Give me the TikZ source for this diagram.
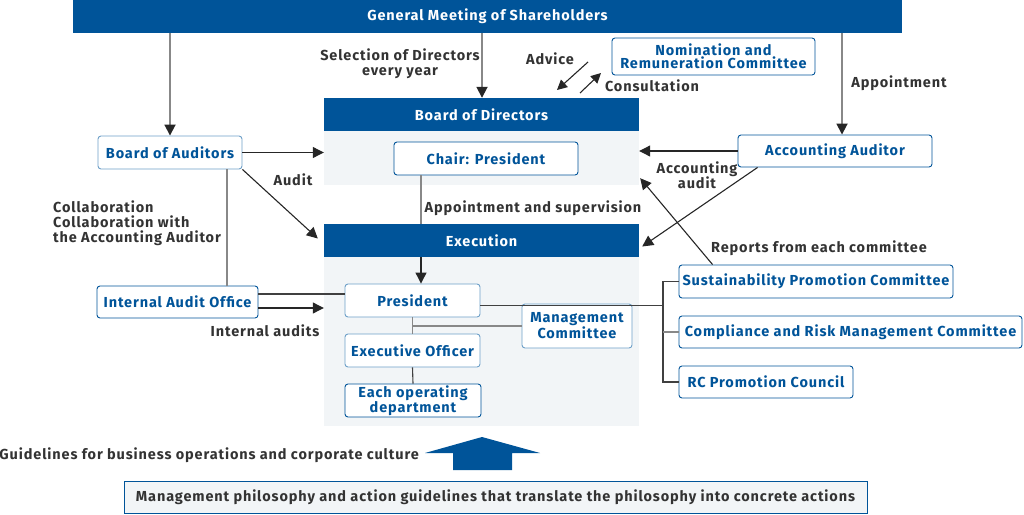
\documentclass[tikz,border=0pt]{standalone}
\usepackage{fontspec}
\setmainfont{Fira Sans}[LetterSpace=6]
\usetikzlibrary{arrows.meta,calc}
\definecolor{dblue}{RGB}{0,84,153}
\definecolor{bgc}{RGB}{242,245,247}
\definecolor{gline}{RGB}{136,136,136}
\definecolor{txt}{RGB}{51,51,51}
\definecolor{lborder}{RGB}{110,160,200}
\tikzset{
  every node/.style={font=\fontsize{14.5}{14.5}\selectfont\bfseries, inner sep=0pt},
  header/.style={fill=dblue, text=white, minimum height=33pt, anchor=center},
  bgarea/.style={fill=bgc, anchor=center},
  box/.style={draw=dblue, fill=white, text=dblue, rounded corners=3pt, line width=0.9pt, align=center, anchor=center, font=\fontsize{14.5}{12}\selectfont\bfseries},
  lbox/.style={box, draw=lborder},
  lbl/.style={text=txt, align=center, font=\fontsize{14.5}{15}\selectfont\bfseries},
  garrow/.style={draw=gline, line width=1.8pt, -{Triangle[width=11pt,length=11pt,fill=black!85,color=black!85]}},
  barrow/.style={draw=black!85, line width=1.1pt, -{Triangle[width=11pt,length=11pt]}},
  gline/.style={draw=gline, line width=1.8pt},
  bline/.style={draw=black!75, line width=1.1pt},
}
\begin{document}
\begin{tikzpicture}[x=1pt,y=-1pt]
\useasboundingbox (0,0) rectangle (1024,514);
% background areas
\node[bgarea, minimum width=315pt, minimum height=54pt] (bodbg) at (481.5,158) {};
\node[bgarea, minimum width=315pt, minimum height=169pt] (execbg) at (481.5,341.5) {};
% headers
\node[header, minimum width=829pt] (gm) at (487.5,16.5) {General Meeting of Shareholders};
\node[header, minimum width=315pt] (bod) at (481.5,114.5) {Board of Directors};
\node[header, minimum width=315pt] (exec) at (481.5,240.5) {Execution};
% boxes
\node[box, minimum width=203pt, minimum height=37pt] (nom) at (713.5,56.5) {Nomination and\\Remuneration Committee};
\node[box, minimum width=184pt, minimum height=33pt] (chair) at (486,158.5) {Chair: President};
\node[lbox, minimum width=144pt, minimum height=33pt] (boa) at (170,152.5) {Board of Auditors};
\node[box, minimum width=194pt, minimum height=32pt] (aa) at (835,151) {Accounting Auditor};
\node[box, minimum width=161pt, minimum height=32pt] (iao) at (177.5,302) {Internal Audit Office};
\node[lbox, minimum width=135pt, minimum height=33pt] (pres) at (412.5,300.5) {President};
\node[lbox, minimum width=110pt, minimum height=44pt, font=\fontsize{14.5}{14}\selectfont\bfseries] (mgmt) at (577,326) {Management\\Committee};
\node[lbox, minimum width=135pt, minimum height=33pt] (eo) at (412.5,350.5) {Executive Officer};
\node[box, minimum width=136pt, minimum height=33pt] (dept) at (413,400.5) {Each operating\\department};
\node[box, minimum width=274pt, minimum height=33pt] (sust) at (816,281.5) {Sustainability Promotion Committee};
\node[box, minimum width=343pt, minimum height=32pt] (comp) at (850.5,332) {Compliance and Risk Management Committee};
\node[box, minimum width=174pt, minimum height=32pt] (rc) at (766,382) {RC Promotion Council};
\node[draw=dblue, fill=bgc, line width=0.9pt, text=txt, minimum width=743pt, minimum height=32pt] (phil) at (495.5,497) {Management philosophy and action guidelines that translate the philosophy into concrete actions};
% up arrow
\fill[dblue] (453,470) -- (453,453) -- (425,453) -- (482,437) -- (540,453) -- (512,453) -- (512,470) -- cycle;
% labels
\node[lbl, anchor=east] (guide) at (419,455) {Guidelines for business operations and corporate culture};
\node[lbl] (sel) at (400,63.5) {Selection of Directors\\every year};
\node[lbl] (appt) at (899,83) {Appointment};
\node[lbl] (adv) at (550,59) {Advice};
\node[lbl] (cons) at (652,86) {Consultation};
\node[lbl] (audit) at (293,180) {Audit};
\node[lbl, align=left, anchor=west] (collab) at (53,223) {Collaboration\\Collaboration with\\the Accounting Auditor};
\node[lbl] (aps) at (533,208) {Appointment and supervision};
\node[lbl] (acca) at (697,175.5) {Accounting\\audit};
\node[lbl] (rep) at (819,248) {Reports from each committee};
\node[lbl] (ia) at (265,331) {Internal audits};
% connectors from GM
\draw[garrow] (gm.south -| boa) -- (boa.north);
\draw[garrow] (gm.south -| 482,0) -- (bod.north -| 482,0);
\draw[garrow] (gm.south -| 842,0) -- (aa.north -| 842,0);
% advice / consultation
\coordinate (adv1) at (588,62);
\coordinate (adv2) at (557,90);
\coordinate (con1) at (580,93);
\coordinate (con2) at (601,73);
\draw[barrow, -{Triangle[width=10pt,length=10pt]}] (adv1) -- (adv2);
\draw[barrow, -{Triangle[width=10pt,length=10pt]}] (con1) -- (con2);
% Board of auditors
\draw[barrow] (boa.east) -- (boa.east -| bodbg.west);
\draw[barrow] (boa.south east) -- ([xshift=-6pt,yshift=2pt]exec.west);
\draw[gline] ([xshift=57pt]boa.south) -- ([xshift=57pt]boa.south |- iao.north);
% chair to execution
\draw[gline] ([xshift=-65pt]chair.south) -- ([xshift=-65pt]chair.south |- exec.north);
% accounting auditor
\draw[barrow] (aa.west) -- (aa.west -| bodbg.east);
\draw[barrow] ([xshift=20pt]aa.south west) -- ([xshift=3pt,yshift=-6pt]exec.east);
% reports
\draw[barrow] ([xshift=34pt]sust.north west) -- ([xshift=1pt,yshift=7pt]bodbg.south east);
% execution internals
\draw[barrow] (exec.south -| 421,0) -- (pres.north -| 421,0);
\coordinate (ia1) at ($(iao.east)+(0,-8)$);
\coordinate (ia2) at ($(iao.east)+(0,6)$);
\draw[bline] (ia1) -- (ia1 -| pres.west);
\draw[barrow] (ia2) -- (ia2 -| execbg.west);
\draw[gline] (pres.south) -- (eo.north);
\draw[gline] (pres.south |- mgmt.west) -- (mgmt.west);
\draw[bline] (eo.south) -- (dept.north);
% committees bus
\coordinate (bus) at (663,0);
\draw[bline] ([yshift=-5pt]pres.east) -- ([yshift=-5pt]pres.east -| bus);
\draw[bline] (sust.west) -| (bus |- rc.west) -- (rc.west);
\draw[gline] (bus |- comp.west) -- (comp.west);
\end{tikzpicture}
\end{document}
